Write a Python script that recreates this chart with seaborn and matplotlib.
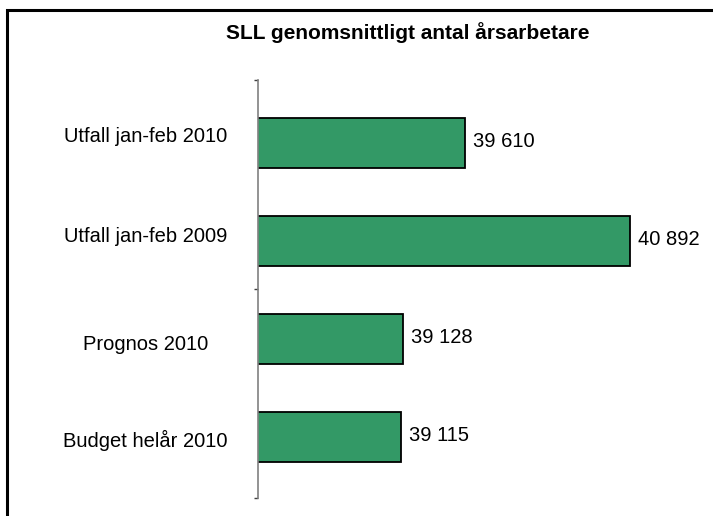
import matplotlib
matplotlib.use("Agg")
import matplotlib.pyplot as plt
import matplotlib.transforms as mtransforms
import seaborn as sns
import pandas as pd
from matplotlib.patches import Rectangle

categories = ["Utfall jan-feb 2010", "Utfall jan-feb 2009", "Prognos 2010", "Budget helår 2010"]
values = [39610, 40892, 39128, 39115]
value_labels = ["39 610", "40 892", "39 128", "39 115"]
title = "SLL genomsnittligt antal årsarbetare"

sns.set_theme(style="white")
plt.rcParams['font.family'] = ['Liberation Sans', 'DejaVu Sans']
plt.rcParams['text.color'] = 'black'
plt.rcParams['ytick.labelcolor'] = 'black'

df = pd.DataFrame({"cat": categories, "val": values})

W, H = 713, 516
fig = plt.figure(figsize=(W / 100, H / 100), dpi=100)
fig.patch.set_facecolor("white")
# outer frame (extends beyond right/bottom edges)
fig.add_artist(Rectangle((7 / W, -0.05), 1.2, 1 - 10 / H + 0.05, transform=fig.transFigure,
                         fill=False, edgecolor="black", linewidth=2.2))

ax_left, ax_right = 258, 708
ax_top, ax_bot = 80, 498
ax = fig.add_axes([ax_left / W, 1 - ax_bot / H, (ax_right - ax_left) / W, (ax_bot - ax_top) / H])

sns.barplot(data=df, y="cat", x="val", orient="h", color="#339966", saturation=1,
            edgecolor="black", linewidth=1.3, width=0.51, ax=ax)

ax.set_xlim(38000, 41500)
ppu = 98.0
ymin = (ax_bot - 143) / ppu
ymax = (ax_top - 143) / ppu
ax.set_ylim(ymin, ymax)

ax.set_xlabel("")
ax.set_ylabel("")
ax.set_xticks([])
for s in ["top", "right", "bottom"]:
    ax.spines[s].set_visible(False)
ax.spines["left"].set_color("#808080")
ax.spines["left"].set_linewidth(1.2)

ax.set_yticks(range(len(categories)))
ax.set_yticklabels(categories, fontsize=14.5, ha="center", color="black")
ax.tick_params(axis="y", which="major", length=0, pad=81)
ax.set_yticks([ymin, (ymin + ymax) / 2, ymax], minor=True)
ax.tick_params(axis="y", which="minor", length=3, width=1, color="#404040", left=True)

# small vertical offsets of category labels (pixels, positive = up)
offsets_px = [8, 7, -4, -1]
for lbl, dy in zip(ax.get_yticklabels(), offsets_px):
    lbl.set_transform(lbl.get_transform() +
                      mtransforms.ScaledTranslation(0, dy / 100, fig.dpi_scale_trans))

for i, (v, lab) in enumerate(zip(values, value_labels)):
    ax.text(v + 60, i - 0.02, lab, va="center", ha="left", fontsize=14.5, color="black")

fig.text(408 / W, 1 - 33 / H, title, ha="center", va="center", fontsize=15,
         fontweight="bold", color="black")

fig.savefig("out.png", dpi=100, facecolor="white")
